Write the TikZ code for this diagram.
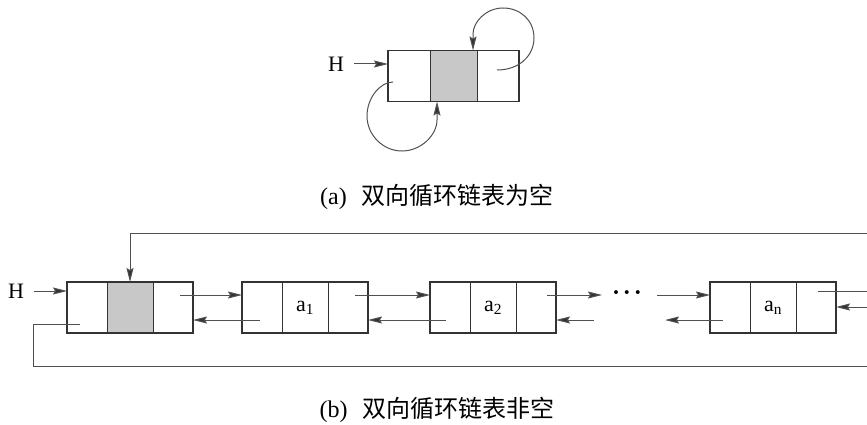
\documentclass[tikz,border=0pt]{standalone}
\usepackage{fontspec}
\setmainfont{Liberation Serif}
\newfontfamily\cjk{Noto Sans CJK SC}
\usetikzlibrary{arrows.meta,calc}
\definecolor{boxc}{HTML}{333333}
\definecolor{linec}{HTML}{505050}
\definecolor{shade}{HTML}{C8C8C8}
\tikzset{
  cell/.style={draw=boxc, line width=1pt, minimum height=51pt, inner sep=0pt, outer sep=0pt},
  outerbox/.style={draw=boxc, line width=1.8pt},
  conn/.style={draw=linec, line width=1pt},
  arr/.style={conn, -{Stealth[length=14pt,width=7pt,inset=2pt,fill=boxc]}},
  lbl/.style={font=\fontsize{22}{24}\selectfont, inner sep=0pt},
  captext/.style={font=\fontsize{24}{26}\selectfont, inner sep=0pt}
}
\newcommand\dlnode[5]{%
  \node[cell, minimum width=40pt] (#1-l) at (#2+20,#3) {};
  \node[cell, minimum width=46pt, fill=#5, lbl] (#1-m) at (#2+63,#3) {#4};
  \node[cell, minimum width=40pt] (#1-r) at (#2+106,#3) {};
  \draw[outerbox] (#1-l.north west) rectangle (#1-r.south east);
}
\begin{document}
\begin{tikzpicture}[x=1pt,y=-1pt]
\useasboundingbox (0,0) rectangle (867,425);
% ---------- (a) empty list ----------
\node[cell, minimum width=42pt] (e-l) at (409,76) {};
\node[cell, minimum width=47pt, fill=shade] (e-m) at (453.5,76) {};
\node[cell, minimum width=42pt] (e-r) at (498,76) {};
\draw[outerbox] (e-l.north west) rectangle (e-r.south east);
\node[lbl] (Ha) at (336,64) {H};
\draw[arr] ($(Ha.east)+(10,0)$) -- (e-l.west |- Ha);
% loop at top right
\coordinate (ea) at ($(e-m.north east)+(-4,0)$);
\draw[arr] ($(e-r.center)+(-1,-6)$) .. controls (520,70) and (534,55) .. (534,38)
   .. controls (534,20) and (520,8) .. (503,8)
   .. controls (486,8) and (473,22) .. (473,34) -- (ea);
% loop at bottom left
\coordinate (eb) at ($(e-m.south west)+(7,0)$);
\draw[arr] ($(e-l.center)+(-16,6)$) .. controls (380,82) and (367,98) .. (367,116)
   .. controls (367,135) and (383,151) .. (402,151)
   .. controls (421,151) and (437,135) .. (437,120) -- (eb);
\node[captext] (capa) at (437,197) {(a)\hspace{15pt}{\cjk 双向循环链表为空}};
% ---------- (b) non-empty list ----------
\dlnode{h}{67}{307.5}{}{shade}
\dlnode{a1}{242}{307.5}{a\textsubscript{1}}{white}
\dlnode{a2}{430}{307.5}{a\textsubscript{2}}{white}
\dlnode{an}{710}{307.5}{a\textsubscript{n}}{white}
\node[lbl] (Hb) at (16,291) {H};
\draw[arr] ($(Hb.east)+(10,0)$) -- (h-l.west |- Hb);
% free ends
\coordinate (f1) at (602,295);
\coordinate (f2) at (594,320);
\coordinate (f3) at (657,295);
\coordinate (f4) at (665,320);
\coordinate (tr) at (867,233);
\coordinate (br) at (867,366);
\coordinate (rf) at (867,291);
\coordinate (rb) at (867,307);
% forward links
\draw[arr] ($(h-r.center)+(7,-12.5)$) -- ($(a1-l.west)+(0,-12.5)$);
\draw[arr] ($(a1-r.center)+(7,-12.5)$) -- ($(a2-l.west)+(0,-12.5)$);
\draw[arr] ($(a2-r.center)+(11,-12.5)$) -- (f1);
\draw[arr] (f3) -- (an-l.west |- f3);
\draw[conn] ($(an-r.center)+(2,-16.5)$) -- (rf);
% backward links
\draw[arr] ($(a1-l.center)+(-2,12.5)$) -- ($(h-r.east)+(0,12.5)$);
\draw[arr] ($(a2-l.center)+(-4,12.5)$) -- ($(a1-r.east)+(0,12.5)$);
\draw[arr] (f2) -- (a2-r.east |- f2);
\draw[arr] ($(an-l.center)+(-7,12.5)$) -- (f4);
\draw[arr] (rb) -- (an-r.east |- rb);
% dots
\node[lbl, font=\fontsize{24}{26}\selectfont\bfseries] (dots) at (627,296) {·\hspace{3pt}·\hspace{3pt}·};
% circular links
\draw[arr] (tr) -- (h-m.north |- tr) -- (h-m.north);
\draw[conn] ($(h-l.center)+(-7,16.5)$) -- ++(-47,0) |- (br);
\node[captext] (capb) at (437,410) {(b)\hspace{15pt}{\cjk 双向循环链表非空}};
\end{tikzpicture}
\end{document}
